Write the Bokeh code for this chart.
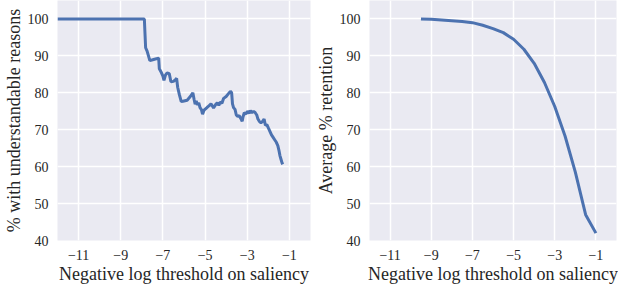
from bokeh.plotting import figure
from bokeh.layouts import row
from bokeh.models import FixedTicker, Range1d
from bokeh.embed import file_html
from bokeh.resources import INLINE

# Left panel: % with understandable reasons
left_x = [-12, -7.88, -7.85, -7.82, -7.75, -7.62, -7.4, -7.2, -7.17, -7.1, -7.0, -6.95, -6.88, -6.8,
          -6.7, -6.62, -6.5, -6.4, -6.35, -6.3, -6.22, -6.13, -6.0, -5.85, -5.7, -5.58, -5.52, -5.47,
          -5.42, -5.37, -5.3, -5.24, -5.17, -5.12, -5.05, -4.95, -4.85, -4.72, -4.65, -4.6, -4.5, -4.42,
          -4.35, -4.28, -4.2, -4.12, -4.0, -3.9, -3.8, -3.74, -3.7, -3.65, -3.58, -3.52, -3.45, -3.38,
          -3.3, -3.24, -3.2, -3.14, -3.05, -2.98, -2.9, -2.85, -2.78, -2.7, -2.62, -2.55, -2.5, -2.42,
          -2.35, -2.28, -2.2, -2.14, -2.07, -2.0, -1.92, -1.85, -1.78, -1.7, -1.62, -1.55, -1.5, -1.45,
          -1.4, -1.35, -1.32]
left_y = [100, 100, 96, 92.2, 91.3, 88.7, 89.1, 89.4, 86.5, 85.8, 84.5, 83.4, 84.8, 85.4,
          85.2, 83.0, 83.1, 83.6, 83.9, 81.5, 79.5, 77.6, 77.8, 78.0, 79.0, 80.0, 78.2, 76.9,
          77.8, 76.7, 77.3, 76.0, 75.4, 74.2, 75.3, 75.8, 76.3, 77.0, 76.4, 75.9, 76.8, 77.3,
          76.6, 77.5, 77.2, 78.5, 79.0, 79.7, 80.4, 80.0, 77.0, 76.0, 75.5, 74.0, 73.6, 73.8,
          73.0, 72.3, 73.5, 74.6, 74.3, 75.0, 74.5, 75.2, 74.6, 75.0, 74.6, 74.0, 73.0, 72.2,
          71.9, 72.2, 72.9, 71.2, 71.4, 70.5, 69.5, 68.6, 68.0, 67.3, 66.6, 65.7, 64.5, 63.0,
          62.0, 61.0, 60.6]

# Right panel: average % retention
right_x = [-9.5, -9, -8.5, -8, -7.5, -7, -6.5, -6, -5.5, -5, -4.5, -4, -3.5, -3, -2.5, -2, -1.5, -1]
right_y = [100, 99.9, 99.7, 99.5, 99.3, 99.0, 98.3, 97.4, 96.3, 94.5, 91.8, 88.0, 82.8, 76.3,
           68.3, 58.5, 47.0, 42.0]

x_ticks = [-11, -9, -7, -5, -3, -1]
y_ticks = [40, 50, 60, 70, 80, 90, 100]
x_label = "Negative log threshold on saliency"
left_ylabel = "% with understandable reasons"
right_ylabel = "Average % retention"

BG = "#EAEAF2"
LINE = "#4C72B0"
TXT = "#262626"
FONT = "Times New Roman"


def make(xs, ys, ylabel, width):
    p = figure(width=width, height=286, output_backend="svg", toolbar_location=None,
               x_range=Range1d(-12, 0), y_range=Range1d(40, 105),
               min_border_left=0, min_border_right=2, min_border_top=0,
               min_border_bottom=0)
    p.line(xs, ys, line_color=LINE, line_width=3)
    p.xaxis.ticker = FixedTicker(ticks=x_ticks)
    p.yaxis.ticker = FixedTicker(ticks=y_ticks)
    p.ygrid.ticker = FixedTicker(ticks=y_ticks)
    p.xaxis.major_label_overrides = {t: "\u2212" + str(abs(t)) for t in x_ticks}
    for ax in (p.xaxis[0], p.yaxis[0]):
        ax.major_label_text_font = FONT
        ax.major_label_text_font_size = "14px"
        ax.axis_label_text_font = FONT
        ax.axis_label_text_font_size = "18px"
        ax.axis_label_text_font_style = "normal"
        ax.major_label_text_color = TXT
        ax.axis_label_text_color = TXT
        ax.axis_line_color = None
        ax.major_tick_line_color = None
        ax.minor_tick_line_color = None
        ax.major_label_standoff = 3
        ax.axis_label_standoff = 1
    p.background_fill_color = BG
    p.border_fill_color = "white"
    p.outline_line_color = None
    p.grid.grid_line_color = "white"
    p.grid.grid_line_width = 1.5
    p.xaxis.axis_label = x_label
    p.yaxis.axis_label = ylabel
    return p


p1 = make(left_x, left_y, left_ylabel, 312)
p2 = make(right_x, right_y, right_ylabel, 306)
layout = row(p1, p2, spacing=0)

open("out.html", "w").write(file_html(layout, INLINE))
